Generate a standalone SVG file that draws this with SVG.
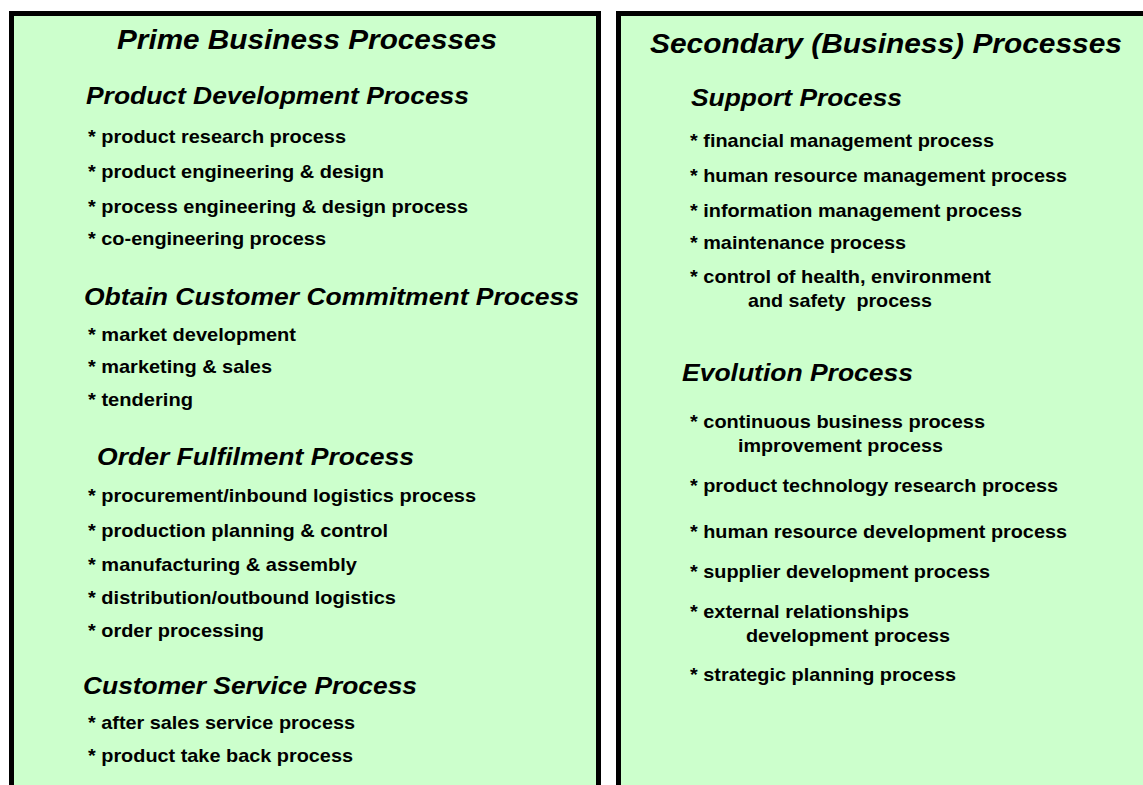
<svg xmlns="http://www.w3.org/2000/svg" width="1143" height="785" viewBox="0 0 1143 785">
<style>
.panel{fill:#ccffcc;stroke:#000;stroke-width:5}
text{font-family:"Liberation Sans",Arial,sans-serif;font-weight:bold;fill:#000}
.t{font-size:28px;font-style:italic}
.h{font-size:24px;font-style:italic}
.i{font-size:19px}
</style>
<rect width="1143" height="785" fill="#fff"/>
<g id="prime">
<rect class="panel" x="11.5" y="13.5" width="587" height="800"/>
<text class="t" x="117" y="49" textLength="380" lengthAdjust="spacingAndGlyphs">Prime Business Processes</text>
<text class="h" x="86" y="104" textLength="383" lengthAdjust="spacingAndGlyphs">Product Development Process</text>
<text class="i" x="88" y="143" textLength="258" lengthAdjust="spacingAndGlyphs">* product research process</text>
<text class="i" x="88" y="178" textLength="296" lengthAdjust="spacingAndGlyphs">* product engineering &amp; design</text>
<text class="i" x="88" y="213" textLength="380" lengthAdjust="spacingAndGlyphs">* process engineering &amp; design process</text>
<text class="i" x="88" y="245" textLength="238" lengthAdjust="spacingAndGlyphs">* co-engineering process</text>
<text class="h" x="84" y="305" textLength="495" lengthAdjust="spacingAndGlyphs">Obtain Customer Commitment Process</text>
<text class="i" x="88" y="341" textLength="208" lengthAdjust="spacingAndGlyphs">* market development</text>
<text class="i" x="88" y="373" textLength="184" lengthAdjust="spacingAndGlyphs">* marketing &amp; sales</text>
<text class="i" x="88" y="406" textLength="105" lengthAdjust="spacingAndGlyphs">* tendering</text>
<text class="h" x="97" y="465" textLength="317" lengthAdjust="spacingAndGlyphs">Order Fulfilment Process</text>
<text class="i" x="88" y="502" textLength="388" lengthAdjust="spacingAndGlyphs">* procurement/inbound logistics process</text>
<text class="i" x="88" y="537" textLength="300" lengthAdjust="spacingAndGlyphs">* production planning &amp; control</text>
<text class="i" x="88" y="571" textLength="269" lengthAdjust="spacingAndGlyphs">* manufacturing &amp; assembly</text>
<text class="i" x="88" y="604" textLength="308" lengthAdjust="spacingAndGlyphs">* distribution/outbound logistics</text>
<text class="i" x="88" y="637" textLength="176" lengthAdjust="spacingAndGlyphs">* order processing</text>
<text class="h" x="83" y="694" textLength="334" lengthAdjust="spacingAndGlyphs">Customer Service Process</text>
<text class="i" x="88" y="729" textLength="267" lengthAdjust="spacingAndGlyphs">* after sales service process</text>
<text class="i" x="88" y="762" textLength="265" lengthAdjust="spacingAndGlyphs">* product take back process</text>
</g>
<g id="secondary">
<rect class="panel" x="618.5" y="13.5" width="600" height="800"/>
<text class="t" x="650" y="53" textLength="472" lengthAdjust="spacingAndGlyphs">Secondary (Business) Processes</text>
<text class="h" x="691" y="106" textLength="211" lengthAdjust="spacingAndGlyphs">Support Process</text>
<text class="i" x="690" y="147" textLength="304" lengthAdjust="spacingAndGlyphs">* financial management process</text>
<text class="i" x="690" y="182" textLength="377" lengthAdjust="spacingAndGlyphs">* human resource management process</text>
<text class="i" x="690" y="217" textLength="332" lengthAdjust="spacingAndGlyphs">* information management process</text>
<text class="i" x="690" y="249" textLength="216" lengthAdjust="spacingAndGlyphs">* maintenance process</text>
<text class="i" x="690" y="283" textLength="301" lengthAdjust="spacingAndGlyphs">* control of health, environment</text>
<text class="i" x="748" y="307" textLength="184" lengthAdjust="spacingAndGlyphs" xml:space="preserve">and safety  process</text>
<text class="h" x="682" y="381" textLength="231" lengthAdjust="spacingAndGlyphs">Evolution Process</text>
<text class="i" x="690" y="428" textLength="295" lengthAdjust="spacingAndGlyphs">* continuous business process</text>
<text class="i" x="738" y="452" textLength="205" lengthAdjust="spacingAndGlyphs">improvement process</text>
<text class="i" x="690" y="492" textLength="368" lengthAdjust="spacingAndGlyphs">* product technology research process</text>
<text class="i" x="690" y="538" textLength="377" lengthAdjust="spacingAndGlyphs">* human resource development process</text>
<text class="i" x="690" y="578" textLength="300" lengthAdjust="spacingAndGlyphs">* supplier development process</text>
<text class="i" x="690" y="618" textLength="219" lengthAdjust="spacingAndGlyphs">* external relationships</text>
<text class="i" x="746" y="642" textLength="204" lengthAdjust="spacingAndGlyphs">development process</text>
<text class="i" x="690" y="681" textLength="266" lengthAdjust="spacingAndGlyphs">* strategic planning process</text>
</g>
</svg>
